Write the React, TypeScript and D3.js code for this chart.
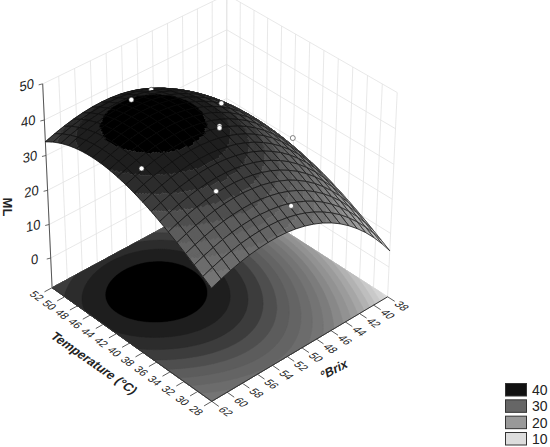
import React from 'react';
import * as d3 from 'd3';

// axis ticks, as printed on the chart
const tempTicks = [52, 50, 48, 46, 44, 42, 40, 38, 36, 34, 32, 30, 28];
const brixTicks = [62, 60, 58, 56, 54, 52, 50, 48, 46, 44, 42, 40, 38];
const mlTicks = [0, 10, 20, 30, 40, 50];

// response surface: peak, T0, B0, curvature T, curvature B, cross, cubic T, cubic B
const surfaceCoef = [41.8, 44.5, 54.5, 0.073, 0.07, 0.004, -0.0013, 0.0011];

// measured design points (white markers): temperature, brix, ML
const pointTemp = [48, 50, 43, 40, 40, 40, 33.6, 29.8, 37];
const pointBrix = [54.3, 50, 47, 50, 50, 60, 56.3, 50.1, 43];
const pointMl = [42, 37.8, 39, 39.5, 39, 39, 36.5, 30, 32];

const legendLevels = [40, 30, 20, 10];
const legendColors = ['#111111', '#666666', '#999999', '#dddddd'];

// contour bands
const bandLevels = d3.range(-6, 40.1, 2);
const grayStops = [-6, 5, 10, 15, 20, 22, 24, 26, 28, 30, 32, 34, 36, 38, 40];
const grayValues = [235, 218, 190, 160, 136, 124, 116, 108, 100, 92, 78, 60, 44, 30, 0];

const tempScale = d3.scaleLinear().domain([28, 52]).range([-1, 1]);
const brixScale = d3.scaleLinear().domain([38, 62]).range([-1, 1]);
const H = 1.033;
const mlScale = d3.scaleLinear().domain([-9, 50]).range([-H, H]);

const PHI = (47.5 * Math.PI) / 180;
const EL = (36 * Math.PI) / 180;
const DIST = 22;
const SCALE = 122;
const CX = 219.5;
const CY = 193;

function rotated(t: number, b: number, ml: number) {
  const a = tempScale(t);
  const c = brixScale(b);
  const z = mlScale(ml);
  const rx = -a * Math.cos(PHI) - c * Math.sin(PHI);
  const ry = -a * Math.sin(PHI) + c * Math.cos(PHI);
  return { rx, ry, z, depth: ry * Math.cos(EL) + z * Math.sin(EL) };
}

function project(t: number, b: number, ml: number): [number, number] {
  const { rx, ry, z, depth } = rotated(t, b, ml);
  const f = (SCALE * DIST) / (DIST - depth);
  return [CX + f * rx, CY + f * (ry * Math.sin(EL) - z * Math.cos(EL))];
}

function surface(t: number, b: number) {
  const [peak, t0, b0, ct, cb, cx, ctt, cbb] = surfaceCoef;
  const dt = t - t0;
  const db = b - b0;
  return peak - ct * dt ** 2 - cb * db ** 2 + cx * dt * db + ctt * dt ** 3 + cbb * db ** 3;
}

const grayScale = d3.scaleLinear<number>().domain(grayStops).range(grayValues).clamp(true);
function bandColor(v: number) {
  const lvl = d3.max(bandLevels.filter((l) => l <= v)) ?? bandLevels[0];
  const g = Math.round(grayScale(lvl));
  return `rgb(${g},${g},${g})`;
}

const poly = (pts: [number, number][]) => 'M' + pts.map((p) => p[0].toFixed(1) + ',' + p[1].toFixed(1)).join('L') + 'Z';
const line = (pts: [number, number][]) => 'M' + pts.map((p) => p[0].toFixed(1) + ',' + p[1].toFixed(1)).join('L');

const MESH = 20;
const SUB = 6;

function FloorContours() {
  const n = 160;
  const gx = d3.scaleLinear().domain([0.5, n - 0.5]).range([28, 52]);
  const gy = d3.scaleLinear().domain([0.5, n - 0.5]).range([38, 62]);
  const values: number[] = [];
  for (let j = 0; j < n; j++) for (let i = 0; i < n; i++) values.push(surface(gx(i + 0.5), gy(j + 0.5)));
  const sets = d3.contours().size([n, n]).thresholds(bandLevels)(values);
  const clampT = (v: number) => Math.max(28, Math.min(52, v));
  const clampB = (v: number) => Math.max(38, Math.min(62, v));
  return (
    <g>
      {sets.map((s) => {
        const d = s.coordinates
          .map((rings) =>
            rings.map((r) => poly(r.map((p) => project(clampT(gx(p[0])), clampB(gy(p[1])), -9)))).join('')
          )
          .join('');
        return <path key={s.value} d={d} fill={bandColor(s.value)} fillRule="evenodd" stroke={bandColor(s.value)} strokeWidth={0.4} />;
      })}
    </g>
  );
}

function Surface() {
  const ts = d3.scaleLinear().domain([0, MESH]).range([52, 28]);
  const bs = d3.scaleLinear().domain([0, MESH]).range([38, 62]);
  const cells: { i: number; j: number; depth: number }[] = [];
  for (let i = 0; i < MESH; i++)
    for (let j = 0; j < MESH; j++) cells.push({ i, j, depth: rotated(ts(i + 0.5), bs(j + 0.5), -9).depth });
  cells.sort((p, q) => p.depth - q.depth);

  const pts = pointTemp.map((t, k) => ({ t, b: pointBrix[k], ml: pointMl[k] }));
  const at = (i: number, j: number): [number, number] => project(ts(i), bs(j), surface(ts(i), bs(j)));

  return (
    <g>
      {cells.map(({ i, j }) => {
        const byColor = new Map<string, string>();
        for (let u = 0; u < SUB; u++)
          for (let v = 0; v < SUB; v++) {
            const i0 = i + u / SUB;
            const i1 = i + (u + 1) / SUB;
            const j0 = j + v / SUB;
            const j1 = j + (v + 1) / SUB;
            const col = bandColor(surface(ts((i0 + i1) / 2), bs((j0 + j1) / 2)));
            byColor.set(col, (byColor.get(col) ?? '') + poly([at(i0, j0), at(i1, j0), at(i1, j1), at(i0, j1)]));
          }
        const inCell = pts.filter(
          (p) => Math.min(Math.floor(ts.invert(p.t)), MESH - 1) === i && Math.min(Math.floor(bs.invert(p.b)), MESH - 1) === j
        );
        return (
          <g key={i + '-' + j}>
            {[...byColor].map(([col, d]) => (
              <path key={col} d={d} fill={col} stroke={col} strokeWidth={0.5} />
            ))}
            <path d={poly([at(i, j), at(i + 1, j), at(i + 1, j + 1), at(i, j + 1)])} fill="none" stroke="#0c0c0c" strokeWidth={0.7} />
            {inCell.map((p, k) => {
              const [x, y] = project(p.t, p.b, p.ml);
              return <circle key={k} cx={x} cy={y} r={2.5} fill="#fff" stroke="#333" strokeWidth={0.6} />;
            })}
          </g>
        );
      })}
    </g>
  );
}

function Walls() {
  const wall = '#e2e2e2';
  const paths: string[] = [];
  brixTicks.forEach((b) => paths.push(line([project(52, b, -9), project(52, b, 50)])));
  tempTicks.forEach((t) => paths.push(line([project(t, 38, -9), project(t, 38, 50)])));
  mlTicks.forEach((m) => paths.push(line([project(52, 62, m), project(52, 38, m), project(28, 38, m)])));
  return <path d={paths.join('')} fill="none" stroke={wall} strokeWidth={0.8} />;
}

function Axes() {
  const font = 'Liberation Sans, Arial, sans-serif';
  const ticks: string[] = [];
  tempTicks.forEach((t) => ticks.push(line([project(t, 62, -9), project(t, 63, -9)])));
  brixTicks.forEach((b) => ticks.push(line([project(28, b, -9), project(27, b, -9)])));
  return (
    <g fontFamily={font} fill="#222">
      <path d={line([project(52, 62, -9), project(28, 62, -9), project(28, 38, -9)])} fill="none" stroke="#333" strokeWidth={1} />
      <path d={line([project(52, 62, -9), project(52, 62, 50)])} fill="none" stroke="#555" strokeWidth={1} />
      <path d={ticks.join('')} fill="none" stroke="#333" strokeWidth={0.8} />
      {mlTicks.map((m) => {
        const [x, y] = project(52, 62, m);
        return (
          <g key={m}>
            <line x1={x} y1={y} x2={x - 4} y2={y + 1} stroke="#444" strokeWidth={0.8} />
            <text transform={`translate(${x - 16},${y + 6}) rotate(-14) skewX(-14)`} fontSize={13.5} textAnchor="middle">{m}</text>
          </g>
        );
      })}
      {tempTicks.map((t) => {
        const [x, y] = project(t, 64, -9);
        return (
          <text key={t} transform={`translate(${x},${y}) rotate(35) skewX(-20)`} fontSize={10.5} textAnchor="middle" dy="0.35em">{t}</text>
        );
      })}
      {brixTicks.map((b) => {
        const [x, y] = project(26, b, -9);
        return (
          <text key={b} transform={`translate(${x},${y}) rotate(35) skewX(-25)`} fontSize={10.5} textAnchor="middle" dy="0.35em">{b}</text>
        );
      })}
      <text
        transform={`translate(${project(40, 66.6, -9)[0]},${project(40, 66.6, -9)[1]}) rotate(35) skewX(-15)`}
        fontSize={12.5} fontWeight="bold" textAnchor="middle" dy="0.35em"
      >Temperature (°C)</text>
      <text
        transform={`translate(${project(23.5, 50, -9)[0]},${project(23.5, 50, -9)[1]}) rotate(-28) skewX(-15)`}
        fontSize={12.5} fontWeight="bold" textAnchor="middle" dy="0.35em"
      >°Brix</text>
      <text transform="translate(3,207) rotate(90)" fontSize={13} fontWeight="bold" textAnchor="middle">ML</text>
    </g>
  );
}

function Legend() {
  const rows = d3.scaleLinear().domain([0, 3]).range([383, 432]);
  return (
    <g fontFamily="Liberation Sans, Arial, sans-serif" fontSize={14} fill="#222">
      {legendLevels.map((l, k) => (
        <g key={l}>
          <rect x={505.5} y={rows(k) + 0.5} width={21} height={12.5} fill={legendColors[k]} stroke="#333" strokeWidth={1} />
          <text x={532} y={rows(k) + 12}>{l}</text>
        </g>
      ))}
    </g>
  );
}

export default function App() {
  return (
    <svg width={550} height={447} style={{ position: 'fixed', left: 0, top: 0, background: '#fff' }}>
      <Walls />
      <FloorContours />
      <Axes />
      <Surface />
      <Legend />
    </svg>
  );
}
